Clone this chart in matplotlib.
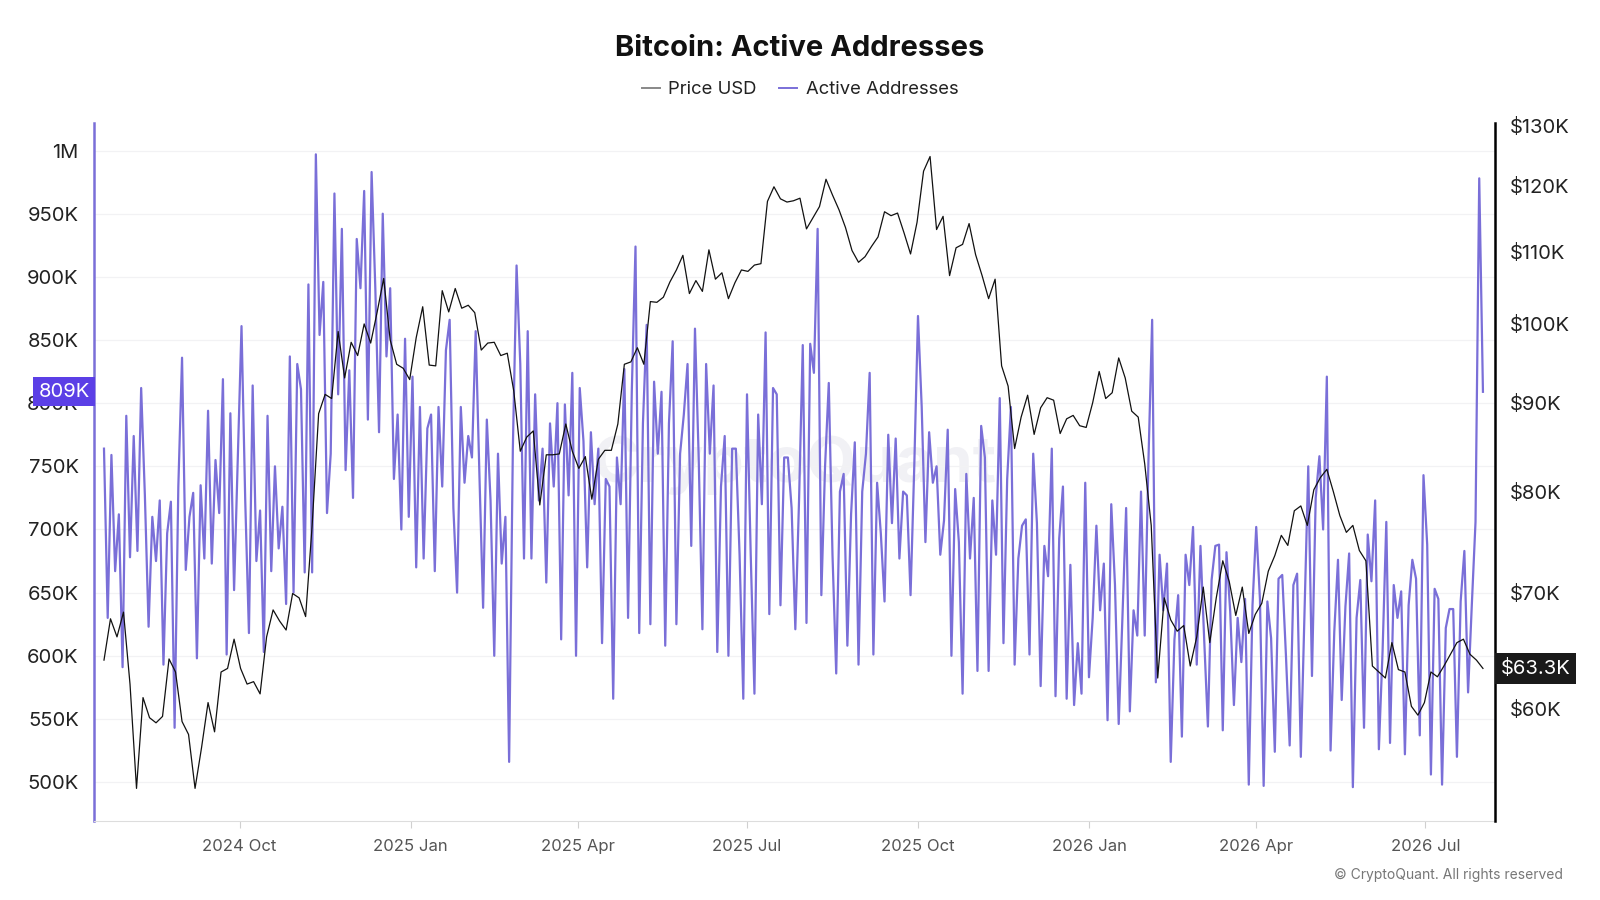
import pandas as pd
import matplotlib
matplotlib.use("Agg")
import matplotlib.pyplot as plt
import matplotlib.dates as mdates
import matplotlib.ticker as mticker
from matplotlib.lines import Line2D
from matplotlib.transforms import blended_transform_factory
import numpy as np

plt.rcParams['font.family'] = ['Inter', 'DejaVu Sans']

# Active addresses (thousands), one reading every 2 days from 2024-07-20
aa_k = [
    764, 630, 759, 667, 712, 591, 790, 678, 774, 683,
    812, 727, 623, 710, 675, 723, 593, 697, 722, 543,
    734, 836, 668, 710, 729, 598, 735, 677, 794, 673,
    755, 713, 819, 601, 792, 652, 755, 861, 723, 618,
    814, 675, 715, 603, 790, 667, 750, 685, 718, 641,
    837, 650, 831, 811, 666, 894, 666, 997, 854, 896,
    713, 760, 966, 807, 938, 747, 826, 725, 930, 891,
    968, 787, 983, 891, 777, 950, 837, 891, 740, 791,
    700, 851, 710, 821, 670, 797, 677, 780, 791, 667,
    797, 734, 842, 866, 717, 650, 797, 737, 774, 757,
    857, 744, 638, 787, 723, 600, 760, 673, 710, 516,
    764, 909, 831, 677, 857, 677, 807, 723, 764, 658,
    784, 734, 800, 613, 799, 727, 824, 600, 812, 770,
    670, 777, 720, 764, 610, 740, 734, 566, 757, 720,
    827, 630, 809, 924, 618, 784, 862, 625, 817, 760,
    809, 608, 784, 849, 625, 760, 791, 831, 687, 859,
    757, 621, 831, 760, 814, 603, 734, 774, 600, 764,
    764, 680, 566, 807, 680, 570, 791, 720, 856, 633,
    812, 807, 640, 757, 757, 717, 621, 723, 846, 626,
    847, 824, 938, 648, 750, 816, 680, 586, 730, 744,
    608, 712, 769, 593, 730, 760, 824, 601, 737, 697,
    643, 775, 705, 772, 677, 730, 727, 648, 750, 869,
    797, 690, 777, 737, 750, 680, 707, 779, 600, 732,
    690, 570, 744, 677, 725, 588, 782, 757, 588, 723,
    680, 804, 610, 740, 797, 593, 677, 703, 708, 601,
    760, 705, 576, 687, 663, 764, 568, 693, 734, 566,
    672, 561, 610, 570, 737, 583, 630, 703, 636, 673,
    549, 720, 656, 546, 630, 717, 556, 636, 616, 730,
    616, 754, 866, 579, 680, 636, 673, 516, 613, 648,
    536, 680, 656, 702, 593, 687, 613, 544, 660, 687,
    688, 541, 682, 635, 561, 630, 595, 645, 498, 640,
    702, 645, 497, 643, 614, 524, 661, 664, 600, 529,
    656, 665, 520, 635, 750, 584, 725, 758, 700, 821,
    525, 619, 676, 565, 639, 681, 496, 630, 660, 543,
    696, 659, 723, 526, 604, 706, 531, 656, 630, 651,
    522, 640, 676, 661, 537, 743, 688, 506, 653, 645,
    498, 622, 637, 637, 520, 643, 683, 571, 640, 706,
    978, 809,
]

# BTC price (thousand USD), one reading every 3.5 days from 2024-07-20
price_k = [
    64.0, 67.6, 66.0, 68.2, 62.0, 54.0, 60.9, 59.3, 58.9, 59.4,
    64.1, 63.0, 59.0, 58.0, 54.0, 57.0, 60.5, 58.2, 63.0, 63.3,
    65.8, 63.3, 62.0, 62.2, 61.2, 66.0, 68.4, 67.4, 66.6, 69.9,
    69.5, 67.8, 76.5, 88.7, 91.0, 90.5, 98.9, 93.0, 97.5, 95.8,
    99.9, 97.4, 101.5, 106.1, 97.8, 94.7, 94.2, 92.8, 98.1, 102.2,
    94.6, 94.5, 104.4, 101.5, 104.7, 102.0, 102.4, 101.4, 96.5, 97.4,
    97.5, 95.8, 96.1, 91.4, 84.4, 86.0, 86.7, 78.6, 84.0, 84.0,
    84.1, 87.5, 84.4, 82.5, 83.8, 79.2, 83.5, 84.5, 84.5, 87.5,
    94.7, 95.0, 96.8, 94.7, 102.9, 102.8, 103.5, 105.6, 107.3, 109.4,
    104.0, 105.8, 104.3, 110.2, 106.0, 106.9, 103.3, 105.5, 107.3, 107.1,
    108.0, 108.2, 117.5, 119.8, 117.9, 117.4, 117.6, 118.0, 113.3, 115.0,
    116.7, 121.0, 118.5, 116.2, 113.5, 110.1, 108.4, 109.2, 110.7, 112.1,
    115.9, 115.3, 115.7, 112.7, 109.6, 114.3, 122.3, 124.7, 113.2, 115.2,
    106.5, 110.5, 111.0, 114.1, 109.5, 106.5, 103.3, 106.0, 94.5, 92.0,
    84.7, 88.3, 90.9, 86.3, 89.4, 90.6, 90.3, 86.4, 88.1, 88.5,
    87.3, 87.1, 90.0, 93.8, 90.5, 91.2, 95.5, 93.0, 89.0, 88.3,
    83.0, 76.5, 62.5, 69.5, 67.5, 66.5, 67.0, 63.5, 66.0, 70.5,
    65.5, 69.5, 73.0, 71.0, 67.9, 70.5, 66.3, 68.0, 69.0, 72.0,
    73.5, 75.5, 74.5, 78.0, 78.5, 76.5, 80.2, 81.5, 82.4, 80.0,
    77.5, 75.8, 76.5, 74.0, 73.0, 63.5, 63.0, 62.5, 65.5, 63.2,
    63.0, 60.2, 59.5, 60.5, 63.0, 62.6, 63.5, 64.5, 65.5, 65.8,
    64.5, 64.0, 63.3,
]

aa_dates = pd.date_range("2024-07-20", periods=len(aa_k), freq="2D")
price_dates = pd.date_range("2024-07-20", periods=len(price_k), freq="84h")
aa = np.array(aa_k) * 1000
price = np.array(price_k) * 1000

purple = "#7a6fd8"

fig = plt.figure(figsize=(16, 9), dpi=100)
ax = fig.add_axes([0.0587, 0.0875, 0.8755, 0.7761])
ax2 = ax.twinx()

# watermark
ax.text(0.50, 0.51, "CryptoQuant", transform=ax.transAxes, fontsize=46,
        fontweight="bold", color="#f1f1f5", ha="center", va="center", zorder=0)

ax.plot(aa_dates, aa, color=purple, lw=1.6, zorder=2)
ax2.plot(price_dates, price, color="#111111", lw=0.9)

# left axis
ax.set_ylim(469000, 1022000)
ax.set_yticks(np.arange(500000, 1000001, 50000))
ax.yaxis.set_major_formatter(mticker.FuncFormatter(
    lambda v, p: "1M" if v >= 1e6 else "{:.0f}K".format(v / 1000)))
ax.yaxis.grid(True, color="#f2f2f4", lw=0.9)
ax.set_axisbelow(True)
ax.tick_params(axis="y", length=0, pad=11, labelsize=14.5, labelcolor="#222222")

# right axis, log
ax2.set_yscale("log")
ax2.set_ylim(51700, 130400)
ax2.yaxis.set_major_locator(mticker.FixedLocator(np.arange(60000, 130001, 10000)))
ax2.yaxis.set_minor_locator(mticker.NullLocator())
ax2.yaxis.set_major_formatter(mticker.FuncFormatter(lambda v, p: "${:.0f}K".format(v / 1000)))
ax2.tick_params(axis="y", length=0, pad=11, labelsize=14.5, labelcolor="#222222")

# x axis
ax.set_xlim(pd.Timestamp("2024-07-14 14:00"), pd.Timestamp("2026-08-07 08:00"))
ax.xaxis.set_major_locator(mdates.MonthLocator(bymonth=[1, 4, 7, 10]))
ax.xaxis.set_major_formatter(mdates.DateFormatter("%Y %b"))
ax.tick_params(axis="x", length=5, color="#d0d0d0", pad=8, labelsize=12, labelcolor="#555555")

for s in ["top", "right"]:
    ax.spines[s].set_visible(False)
ax.spines["left"].set_color(purple)
ax.spines["left"].set_linewidth(1.8)
ax.spines["bottom"].set_color("#dddddd")
for s in ["top", "left", "bottom"]:
    ax2.spines[s].set_visible(False)
ax2.spines["right"].set_color("#000000")
ax2.spines["right"].set_linewidth(1.8)

# last-value badges
tl = blended_transform_factory(ax.transAxes, ax.transData)
ax.text(-0.003, aa[-1], "{:.0f}K".format(aa_k[-1]), transform=tl, ha="right", va="center",
        fontsize=14.5, color="white", zorder=10, clip_on=False,
        bbox=dict(boxstyle="square,pad=0.28", fc="#5b3fe6", ec="none"))
tr = blended_transform_factory(ax2.transAxes, ax2.transData)
ax2.text(1.004, price[-1], "${:.1f}K".format(price_k[-1]), transform=tr, ha="left", va="center",
         fontsize=14.5, color="white", zorder=10, clip_on=False,
         bbox=dict(boxstyle="square,pad=0.28", fc="#1a1a1a", ec="none"))

fig.text(0.5, 0.946, "Bitcoin: Active Addresses", ha="center", va="center",
         fontsize=21, fontweight="bold", color="#111111")

handles = [Line2D([], [], color="#888888", lw=1.4), Line2D([], [], color=purple, lw=1.4)]
fig.legend(handles, ["Price USD", "Active Addresses"], loc="center", bbox_to_anchor=(0.5, 0.9),
           ncol=2, frameon=False, handlelength=1.0, handletextpad=0.45, columnspacing=1.2,
           fontsize=13.3, labelcolor="#222222")

fig.text(0.977, 0.028, "© CryptoQuant. All rights reserved", ha="right", va="center",
         fontsize=10, color="#777777")

fig.savefig("out.png", dpi=100)
